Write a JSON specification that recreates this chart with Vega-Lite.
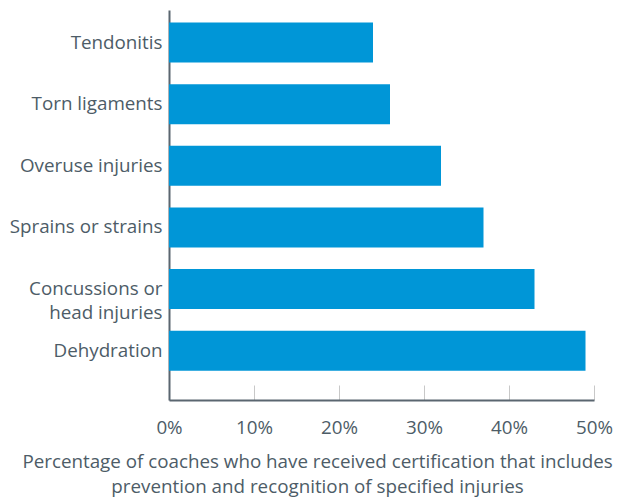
{
  "$schema": "https://vega.github.io/schema/vega-lite/v6.json",
  "width": 425,
  "height": 390,
  "autosize": {"type": "none"},
  "padding": {"left": 169, "top": 10, "right": 24, "bottom": 100},
  "background": "white",
  "config": {"view": {"stroke": null}, "font": "Open Sans"},
  "data": {"values": [
    {"injury": "Tendonitis", "pct": 24},
    {"injury": "Torn ligaments", "pct": 26},
    {"injury": "Overuse injuries", "pct": 32},
    {"injury": "Sprains or strains", "pct": 37},
    {"injury": "Concussions or head injuries", "pct": 43},
    {"injury": "Dehydration", "pct": 49}
  ]},
  "mark": {"type": "bar", "color": "#0096D7"},
  "encoding": {
    "y": {
      "field": "injury", "type": "nominal", "sort": null,
      "scale": {"paddingInner": 0.35, "paddingOuter": 0.34, "align": 0.3},
      "axis": {
        "title": null, "ticks": false, "labelPadding": 7,
        "labelFontSize": 18.8, "labelColor": "#4d5c67", "labelLimit": 300,
        "domainColor": "#5a6670", "domainWidth": 2,
        "labelExpr": "datum.label == 'Concussions or head injuries' ? ['Concussions or', 'head injuries'] : datum.label",
        "labelLineHeight": 24
      }
    },
    "x": {
      "field": "pct", "type": "quantitative",
      "scale": {"domain": [0, 50], "nice": false},
      "axis": {
        "values": [0, 10, 20, 30, 40, 50],
        "labelExpr": "datum.value + '%'",
        "tickSize": -15, "tickColor": "#c8c8c8", "tickWidth": 1,
        "labelPadding": 33, "labelFontSize": 18.8, "labelColor": "#4d5c67",
        "labelFlush": false,
        "domainColor": "#5a6670", "domainWidth": 2,
        "grid": false,
        "title": ["Percentage of coaches who have received certification that includes", "prevention and recognition of specified injuries"],
        "titleFontSize": 18.8, "titleFontWeight": "normal", "titleColor": "#4d5c67",
        "titleLineHeight": 25, "titleAlign": "center", "titleAnchor": null,
        "titleX": 148, "titleY": 67, "titleBaseline": "alphabetic"
      }
    }
  }
}
